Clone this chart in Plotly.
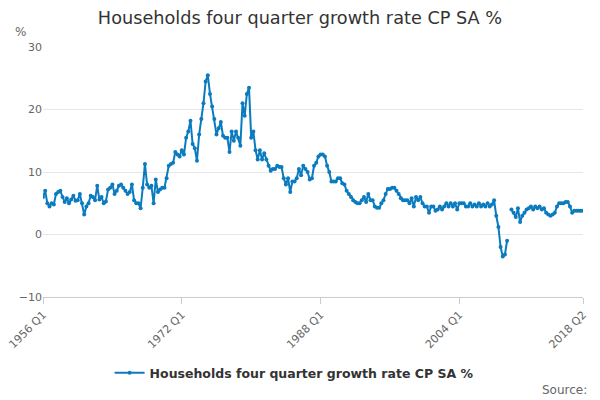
import plotly.graph_objects as go

# Quarterly values, 1956 Q1 .. 2018 Q2 (None = missing quarter)
quarters = [f"{y} Q{q}" for y in range(1956, 2019) for q in range(1, 5)][:250]

growth = [
    6.0, 7.0, 5.0, 4.5,     # 1956
    5.0, 4.8, 6.5, 6.8,     # 1957
    7.0, 6.0, 5.2, 5.8,     # 1958
    5.0, 5.6, 6.2, 5.4,     # 1959
    5.5, 6.5, 5.0, 3.2,     # 1960
    4.5, 5.0, 6.2, 6.0,     # 1961
    5.5, 7.8, 5.6, 6.0,     # 1962
    5.0, 5.3, 7.2, 7.5,     # 1963
    8.0, 6.5, 7.0, 7.8,     # 1964
    8.0, 7.5, 7.0, 6.5,     # 1965
    6.8, 8.0, 5.5, 5.0,     # 1966
    5.0, 4.2, 7.5, 11.3,    # 1967
    8.0, 7.5, 7.8, 5.0,     # 1968
    8.8, 6.8, 7.2, 7.5,     # 1969
    7.5, 9.0, 11.0, 11.3,   # 1970
    11.5, 13.2, 12.8, 12.5, # 1971
    13.5, 12.8, 15.5, 16.5, # 1972
    18.2, 14.5, 13.8, 11.8, # 1973
    16.0, 18.5, 21.0, 24.5, # 1974
    25.5, 22.5, 20.5, 18.5, # 1975
    16.0, 17.0, 18.0, 15.8, # 1976
    15.5, 15.5, 13.2, 16.5, # 1977
    15.0, 16.5, 15.5, 14.2, # 1978
    21.0, 19.0, 22.5, 23.5, # 1979
    15.5, 16.5, 13.5, 12.0, # 1980
    13.5, 12.0, 13.0, 12.0, # 1981
    11.0, 10.2, 10.5, 10.5, # 1982
    11.0, 10.8, 10.8, 9.0,  # 1983
    8.0, 9.0, 6.8, 8.5,     # 1984
    8.5, 9.0, 10.5, 9.5,    # 1985
    11.0, 10.5, 10.0, 8.8,  # 1986
    9.0, 11.0, 11.5, 12.5,  # 1987
    12.8, 12.8, 12.5, 11.0, # 1988
    10.0, 8.5, 8.5, 8.5,    # 1989
    9.0, 9.0, 8.2, 8.0,     # 1990
    7.0, 6.5, 6.0, 5.5,     # 1991
    5.2, 5.0, 5.0, 5.5,     # 1992
    6.0, 5.2, 6.5, 5.5,     # 1993
    5.5, 4.5, 4.3, 4.3,     # 1994
    5.0, 5.5, 6.5, 7.3,     # 1995
    7.3, 7.5, 7.5, 7.0,     # 1996
    6.5, 5.8, 5.5, 5.5,     # 1997
    5.5, 5.0, 5.8, 4.5,     # 1998
    6.0, 5.5, 6.0, 5.0,     # 1999
    4.5, 4.5, 3.5, 4.5,     # 2000
    4.5, 3.8, 4.0, 4.5,     # 2001
    4.0, 4.5, 5.0, 4.5,     # 2002
    5.0, 4.5, 5.0, 4.0,     # 2003
    5.0, 5.0, 5.0, 4.5,     # 2004
    4.5, 5.0, 4.5, 4.8,     # 2005
    4.5, 5.0, 4.5, 4.8,     # 2006
    4.5, 5.0, 4.5, 4.8,     # 2007
    5.5, 3.0, 1.2, -2.0,    # 2008
    -3.5, -3.2, -1.0, None, # 2009
    4.0, 3.5, 2.8, 4.2,     # 2010
    2.0, 3.0, 3.5, 4.0,     # 2011
    4.2, 4.5, 4.0, 4.5,     # 2012
    4.2, 4.5, 4.0, 4.2,     # 2013
    3.5, 3.2, 3.0, 3.2,     # 2014
    3.5, 4.5, 5.0, 5.0,     # 2015
    5.0, 5.2, 5.2, 4.5,     # 2016
    3.5, 3.8, 3.8, 3.8,     # 2017
    3.8, 3.8,               # 2018
]

tick_labels = ["1956 Q1", "1972 Q1", "1988 Q1", "2004 Q1", "2018 Q2"]
y_ticks = [-10, 0, 10, 20, 30]

idx = list(range(len(growth)))
tick_pos = [quarters.index(t) for t in tick_labels]

fig = go.Figure()
fig.add_trace(go.Scatter(
    x=idx, y=growth, text=quarters,
    mode="lines+markers",
    name="Households four quarter growth rate CP SA %",
    line=dict(color="#0b7bbf", width=2),
    marker=dict(color="#0b7bbf", size=4),
    connectgaps=False,
))

fig.update_layout(
    width=600, height=400,
    title=dict(text="Households four quarter growth rate CP SA %",
               x=0.5, xanchor="center", y=0.955, yanchor="middle",
               font=dict(family="DejaVu Sans", size=17.7, color="#333333")),
    font=dict(family="DejaVu Sans", size=11, color="#666666"),
    paper_bgcolor="white", plot_bgcolor="white",
    margin=dict(l=43, r=17, t=47, b=103, autoexpand=False),
    showlegend=True,
    legend=dict(orientation="h", x=0.465, xanchor="center", y=-0.304, yanchor="middle",
                font=dict(family="DejaVu Sans", size=12.5, color="#333333", weight="bold")),
)

fig.update_xaxes(range=[0, len(growth) - 1], tickvals=tick_pos, ticktext=tick_labels,
                 tickangle=-45, showgrid=False, zeroline=False, automargin=False,
                 ticklabeloverflow="allow",
                 showline=True, linecolor="#cccccc", ticks="outside",
                 tickcolor="#cccccc", ticklen=6)
fig.update_yaxes(range=[-10, 30], tickvals=y_ticks, showgrid=True, automargin=False,
                 gridcolor="#e6e6e6", zeroline=False, ticks="", ticklen=0)

fig.add_annotation(text="%", xref="paper", yref="paper", x=-0.055, y=1.06,
                   xanchor="left", yanchor="middle", showarrow=False,
                   font=dict(size=12, color="#666666"))
fig.add_annotation(text="Source:", xref="paper", yref="paper", x=1.011, y=-0.372,
                   xanchor="right", yanchor="middle", showarrow=False,
                   font=dict(size=12, color="#666666"))

# drop the default 8px body margin so the 600x400 figure fills the window
fig.write_html("out.html", config={"displayModeBar": False},
               post_script="document.body.style.margin = '0';")
